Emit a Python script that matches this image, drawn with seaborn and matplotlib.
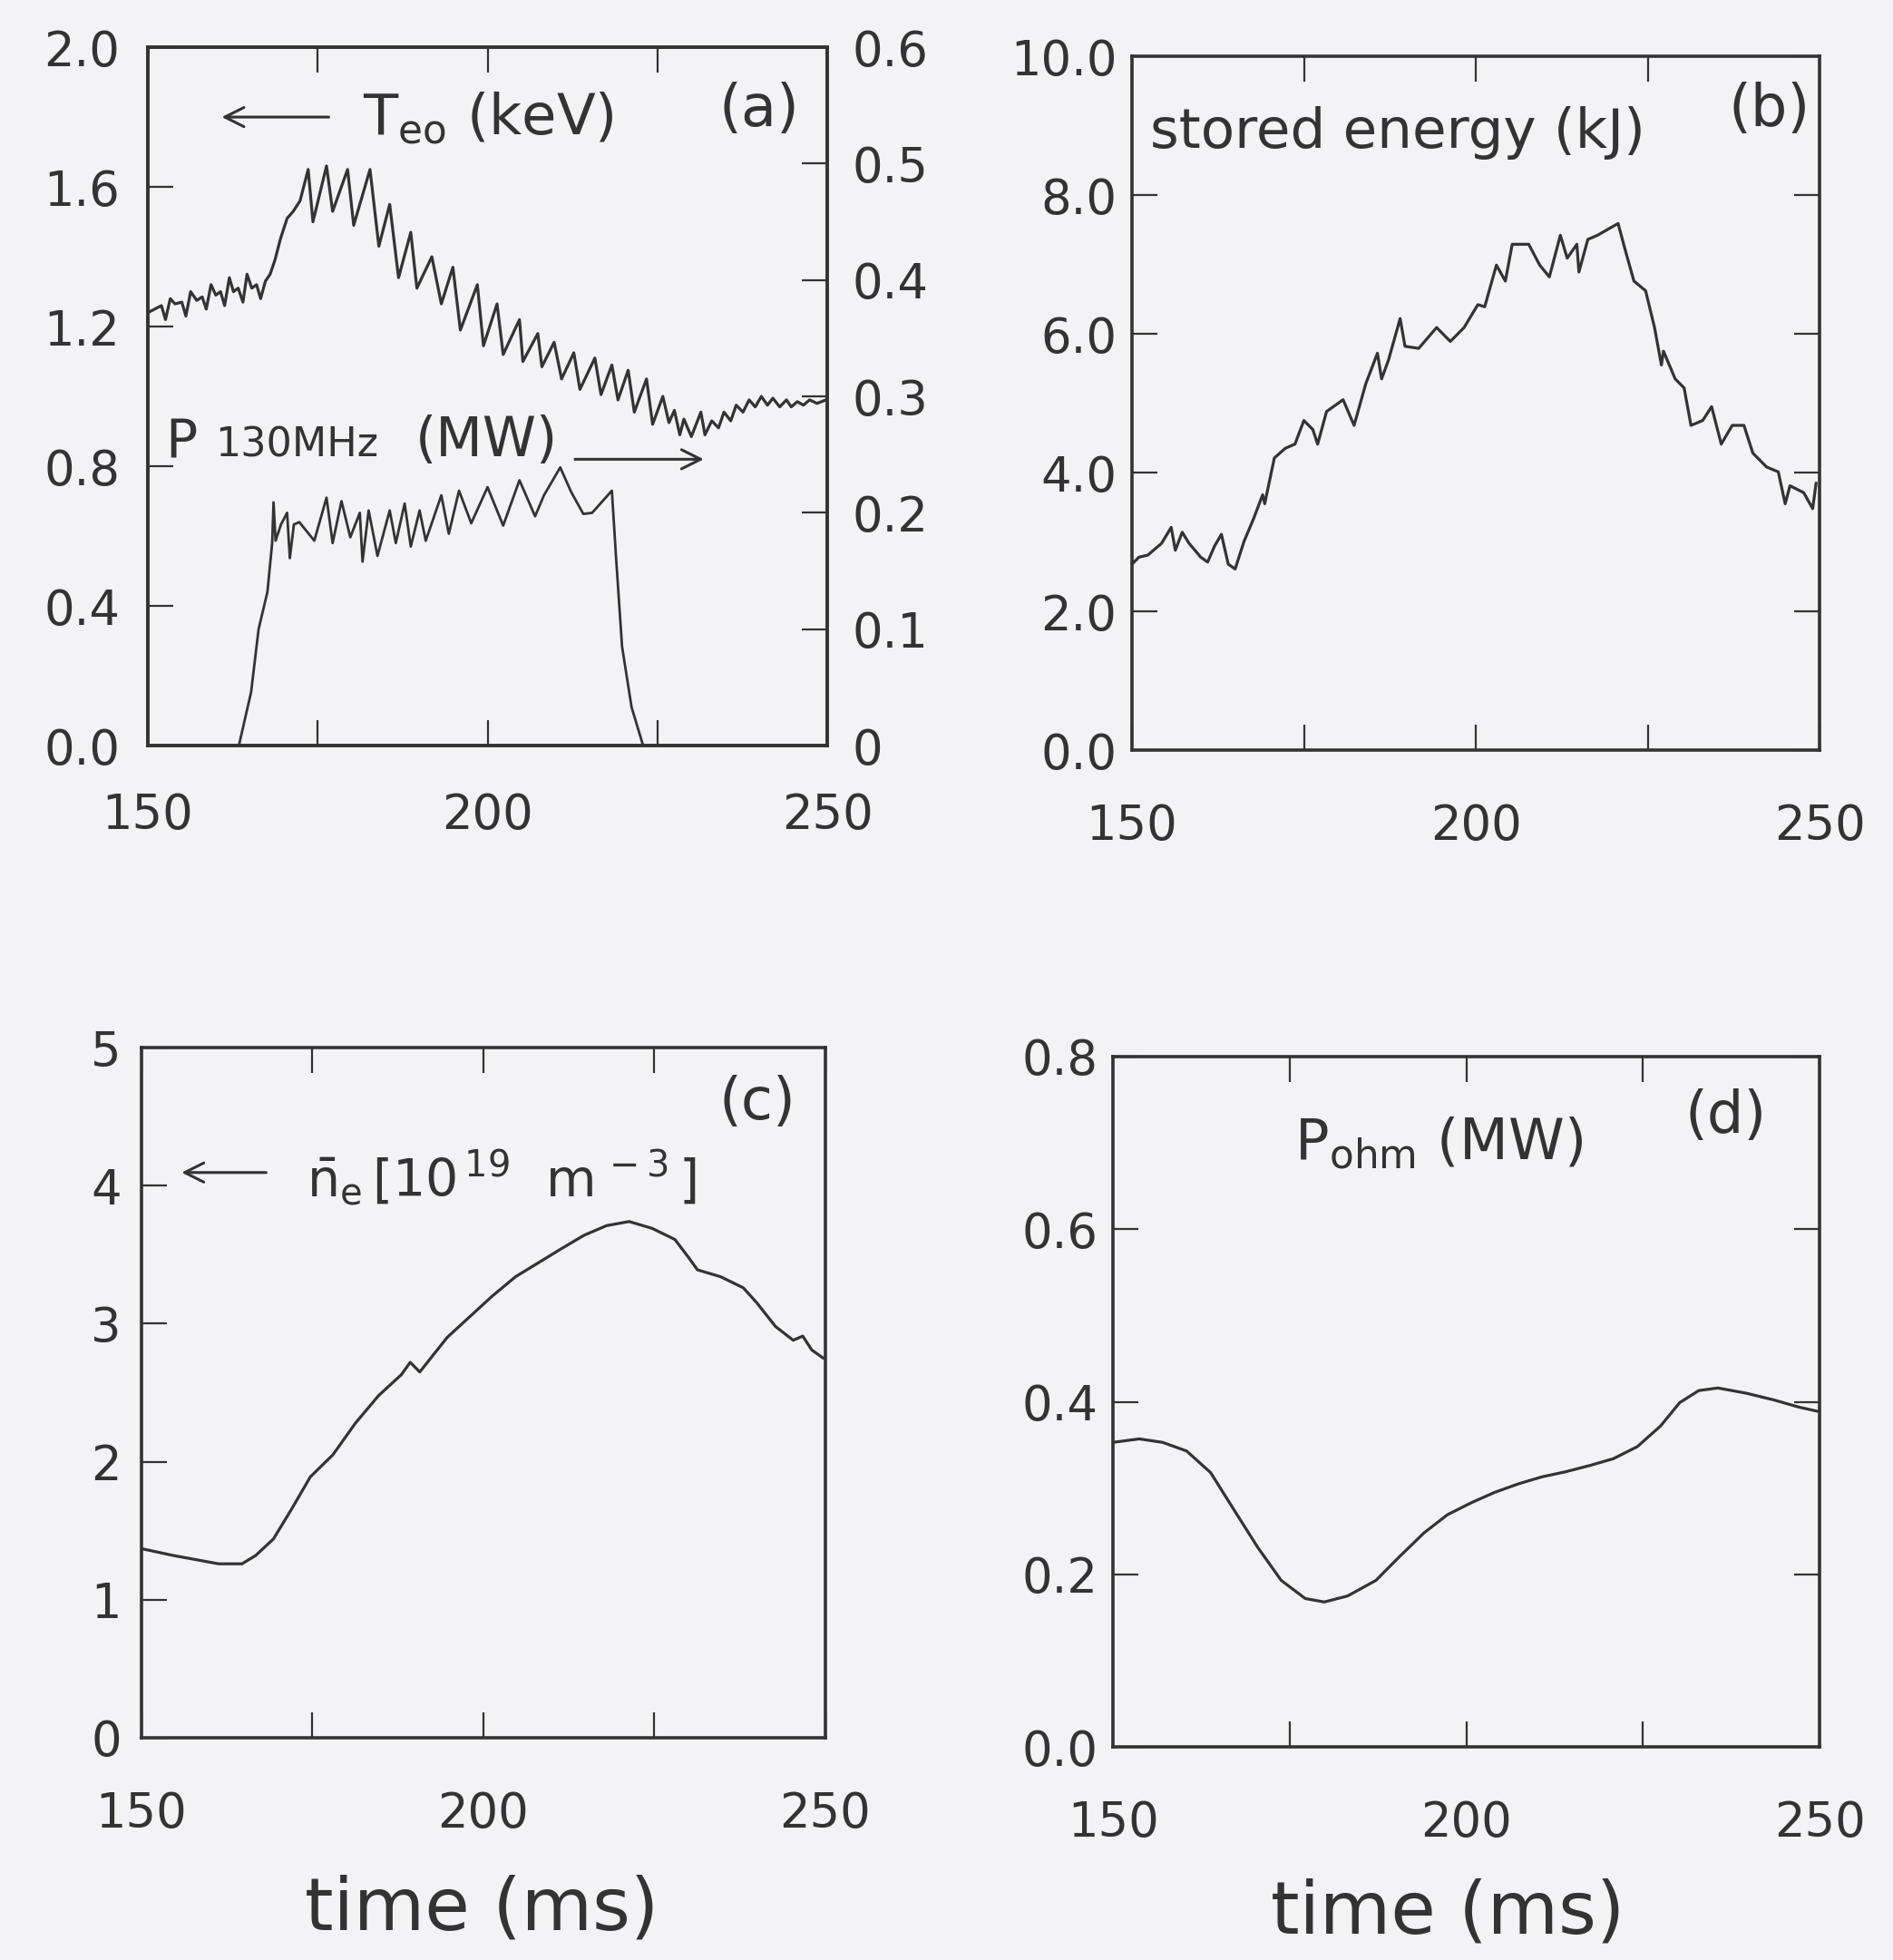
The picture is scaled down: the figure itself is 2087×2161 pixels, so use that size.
import numpy as np
import pandas as pd
import matplotlib
matplotlib.use("Agg")
import matplotlib.pyplot as plt
import seaborn as sns

# (a) central electron temperature (keV, left axis)
teo_t = [150, 151, 152, 152.6, 153.3, 154, 155, 155.6, 156.3, 157.2,
         158, 158.6, 159.3, 160, 160.7, 161.3, 162, 162.6, 163.3, 164,
         164.6, 165.3, 166, 166.6, 167.3, 168, 168.7, 169.5, 170.5, 171.4,
         172.4, 173.6, 174.3, 176.3, 177.2, 179.4, 180.3, 182.7, 184.0, 185.6,
         186.9, 188.7, 189.6, 191.8, 193.2, 194.9, 196.0, 198.5, 199.4, 201.4,
         202.3, 204.7, 205.2, 207.4, 208.0, 209.8, 210.9, 212.7, 213.6, 215.8,
         216.7, 218.3, 219.2, 220.7, 221.6, 223.4, 224.3, 225.8, 226.7, 227.5,
         228.3, 228.9, 230.0, 231.4, 232.0, 233.0, 234.0, 234.8, 235.8, 236.6,
         237.6, 238.5, 239.4, 240.3, 241.2, 242.0, 243.0, 244.0, 244.7, 245.6,
         246.5, 247.4, 248.5, 249.8]
teo_kev = [1.24, 1.25, 1.26, 1.22, 1.28, 1.265, 1.27, 1.23, 1.30, 1.275,
           1.285, 1.25, 1.32, 1.29, 1.30, 1.26, 1.34, 1.30, 1.31, 1.27,
           1.35, 1.31, 1.32, 1.28, 1.33, 1.35, 1.39, 1.45, 1.51, 1.53,
           1.56, 1.65, 1.50, 1.66, 1.53, 1.65, 1.49, 1.65, 1.43, 1.55,
           1.34, 1.47, 1.31, 1.40, 1.265, 1.37, 1.19, 1.32, 1.145, 1.265,
           1.12, 1.22, 1.10, 1.18, 1.085, 1.155, 1.05, 1.125, 1.02, 1.11,
           1.005, 1.09, 0.99, 1.075, 0.955, 1.05, 0.92, 1.00, 0.925, 0.96,
           0.89, 0.935, 0.885, 0.955, 0.89, 0.93, 0.91, 0.955, 0.93, 0.975,
           0.955, 0.99, 0.97, 1.00, 0.975, 0.995, 0.97, 0.99, 0.97, 0.985,
           0.975, 0.99, 0.98, 0.99]

# (a) 130 MHz power (MW, right axis)
p_t = [163.4, 165.2, 166.3, 167.6, 168.3, 168.5, 168.8, 169.6, 170.5, 170.9,
       171.5, 172.3, 174.5, 176.3, 177.2, 178.5, 179.8, 181.2, 181.6, 182.5,
       183.8, 185.6, 186.5, 187.8, 188.7, 190.0, 190.9, 193.2, 194.3, 195.8,
       197.6, 200.0, 202.3, 204.7, 207.0, 208.3, 210.7, 212.3, 214.1, 215.4,
       218.3, 218.9, 219.8, 221.2, 222.9]
p_mw = [0.0, 0.046, 0.10, 0.132, 0.174, 0.209, 0.176, 0.19, 0.20, 0.161,
        0.19, 0.192, 0.176, 0.213, 0.174, 0.210, 0.179, 0.200, 0.158, 0.202,
        0.163, 0.202, 0.174, 0.208, 0.171, 0.202, 0.176, 0.215, 0.182, 0.219,
        0.191, 0.222, 0.189, 0.228, 0.197, 0.215, 0.239, 0.218, 0.199, 0.200,
        0.219, 0.163, 0.085, 0.033, 0.0]

# (b) stored energy (kJ)
w_t = [150, 151, 152.3, 154.3, 155.7, 156.3, 157.3, 158.3, 160, 161,
       162, 163, 164, 165, 166.3, 167.7, 169, 169.3, 170.7, 172.3,
       173.7, 175, 176.3, 177, 178.3, 180.7, 182.3, 184, 185.7, 186.3,
       187.3, 189, 189.7, 191.7, 194.3, 196.3, 198.3, 200.3, 201.3, 203,
       204.3, 205.3, 207.7, 209.3, 210.7, 212.3, 213.3, 214.7, 215, 216.3,
       217.7, 220.7, 221.7, 223, 224.7, 226, 227, 227.3, 229, 230.3,
       231.3, 233, 234.3, 235.7, 237.3, 239, 240.3, 242.3, 244, 245,
       245.7, 247.7, 249, 249.5]
w_kj = [2.68, 2.78, 2.81, 2.98, 3.21, 2.88, 3.14, 2.98, 2.78, 2.71,
        2.94, 3.11, 2.68, 2.61, 3.01, 3.34, 3.68, 3.55, 4.21, 4.35,
        4.41, 4.75, 4.62, 4.41, 4.88, 5.05, 4.68, 5.28, 5.72, 5.35,
        5.62, 6.22, 5.82, 5.79, 6.09, 5.89, 6.09, 6.42, 6.39, 6.99,
        6.76, 7.29, 7.29, 6.99, 6.82, 7.42, 7.09, 7.29, 6.89, 7.36,
        7.42, 7.59, 7.22, 6.76, 6.62, 6.09, 5.55, 5.75, 5.35, 5.22,
        4.68, 4.75, 4.95, 4.41, 4.68, 4.68, 4.28, 4.08, 4.01, 3.55,
        3.81, 3.71, 3.48, 3.85]

# (c) line averaged density (1e19 m^-3)
n_t = [150, 154.7, 158, 161.3, 164.7, 166.7, 169.3, 172, 174.7, 178,
       181.3, 184.7, 188, 189.3, 190.7, 194.7, 198, 201.3, 204.7, 208,
       211.3, 214.7, 218, 221.3, 224.7, 228, 230, 231.3, 234.7, 238,
       240, 242.7, 245.3, 246.7, 248, 249.7]
n_e = [1.37, 1.32, 1.29, 1.26, 1.26, 1.32, 1.44, 1.66, 1.89, 2.05,
       2.28, 2.48, 2.63, 2.72, 2.65, 2.90, 3.05, 3.20, 3.34, 3.44,
       3.54, 3.64, 3.71, 3.74, 3.69, 3.61, 3.48, 3.39, 3.34, 3.26,
       3.15, 2.98, 2.88, 2.91, 2.81, 2.75]

# (d) ohmic power (MW)
o_t = [150, 153.7, 157, 160.4, 163.8, 167.1, 170.5, 173.8, 177.2, 179.9,
       183.2, 187.2, 190.6, 194, 197.3, 200.7, 204, 207.4, 210.7, 214.1,
       217.4, 220.8, 224.2, 227.5, 230.2, 232.9, 235.6, 239.6, 243.6, 247,
       249.7]
o_mw = [0.353, 0.357, 0.353, 0.343, 0.318, 0.275, 0.231, 0.193, 0.172, 0.168,
        0.175, 0.193, 0.221, 0.248, 0.269, 0.283, 0.295, 0.305, 0.313, 0.319,
        0.326, 0.334, 0.348, 0.372, 0.399, 0.413, 0.416, 0.410, 0.402, 0.394,
        0.389]

x_ticks = [150, 175, 200, 225, 250]
x_labels = ['150', '', '200', '', '250']

ink = '#333333'
paper = '#f3f2f4'
tick_fs = 38

sns.set_theme(style='ticks')
plt.rcParams['font.family'] = ['DejaVu Sans']
plt.rcParams['mathtext.fontset'] = 'dejavusans'

fig = plt.figure(figsize=(20.87, 21.61), dpi=100, facecolor=paper)


def style(ax, ylim, yticks, ylabels, ypad, xpad, right=True):
    ax.set_facecolor(paper)
    ax.set_xlim(150, 250)
    ax.set_ylim(*ylim)
    ax.set_xticks(x_ticks)
    ax.set_xticklabels(x_labels)
    ax.set_yticks(yticks)
    ax.set_yticklabels(ylabels)
    ax.tick_params(direction='in', top=True, right=right, length=20, width=1.6,
                   labelsize=tick_fs, colors=ink)
    ax.tick_params(axis='x', pad=xpad)
    ax.tick_params(axis='y', pad=ypad)
    for s in ax.spines.values():
        s.set_linewidth(2.6)
        s.set_color(ink)
    ax.set_xlabel('')
    ax.set_ylabel('')


def curve(ax, t, v, lw=2.3):
    df = pd.DataFrame({'t': t, 'v': v})
    sns.lineplot(data=df, x='t', y='v', ax=ax, color=ink, linewidth=lw,
                 estimator=None, sort=False)


def arrow(ax, x0, x1, y):
    ax.annotate('', xy=(x1, y), xytext=(x0, y), xycoords='axes fraction',
                arrowprops=dict(arrowstyle='->', lw=2.2, color=ink, mutation_scale=38))


# panel (a)
ax_a = fig.add_axes([0.0781, 0.6196, 0.3589, 0.3563])
curve(ax_a, teo_t, teo_kev)
style(ax_a, (0, 2.0), [0, 0.4, 0.8, 1.2, 1.6, 2.0],
      ['0.0', '0.4', '0.8', '1.2', '1.6', '2.0'], ypad=22, xpad=37, right=False)
ax_r = ax_a.twinx()
curve(ax_r, p_t, p_mw, lw=2.0)
ax_r.set_ylim(0, 0.6)
ax_r.set_yticks([0, 0.1, 0.2, 0.3, 0.4, 0.5, 0.6])
ax_r.set_yticklabels(['0', '0.1', '0.2', '0.3', '0.4', '0.5', '0.6'])
ax_r.tick_params(direction='in', right=True, left=False, length=20, width=1.6,
                 labelsize=tick_fs, colors=ink, pad=20)
ax_r.set_ylabel('')
for s in ax_r.spines.values():
    s.set_linewidth(2.6)
    s.set_color(ink)

arrow(ax_a, 0.27, 0.105, 0.90)
ax_a.text(0.316, 0.875, r'T$_{\mathrm{eo}}$ (keV)', transform=ax_a.transAxes,
          fontsize=45, color=ink, va='baseline')
ax_a.text(0.90, 0.91, '(a)', transform=ax_a.transAxes, fontsize=46, color=ink,
          ha='center', va='center')
# P 130MHz (MW) label, built from three pieces like the original lettering
ax_a.text(0.026, 0.414, 'P', transform=ax_a.transAxes, fontsize=42, color=ink,
          va='baseline')
ax_a.text(0.099, 0.414, '130MHz', transform=ax_a.transAxes, fontsize=32, color=ink,
          va='baseline')
ax_a.text(0.394, 0.414, '(MW)', transform=ax_a.transAxes, fontsize=43, color=ink,
          va='baseline')
arrow(ax_a, 0.625, 0.822, 0.41)

# panel (b)
ax_b = fig.add_axes([0.598, 0.6173, 0.3632, 0.354])
curve(ax_b, w_t, w_kj)
style(ax_b, (0, 10.0), [0, 2, 4, 6, 8, 10],
      ['0.0', '2.0', '4.0', '6.0', '8.0', '10.0'], ypad=12, xpad=42)
ax_b.text(0.027, 0.868, 'stored energy (kJ)', transform=ax_b.transAxes,
          fontsize=44, color=ink, va='baseline')
ax_b.text(0.927, 0.923, '(b)', transform=ax_b.transAxes, fontsize=46, color=ink,
          ha='center', va='center')

# panel (c)
ax_c = fig.add_axes([0.0747, 0.1134, 0.3613, 0.3521])
curve(ax_c, n_t, n_e)
style(ax_c, (0, 5), [0, 1, 2, 3, 4, 5], ['0', '1', '2', '3', '4', '5'],
      ypad=16, xpad=42, right=False)
ax_c.text(0.90, 0.92, '(c)', transform=ax_c.transAxes, fontsize=46, color=ink,
          ha='center', va='center')
arrow(ax_c, 0.186, 0.055, 0.819)
ax_c.text(0.241, 0.783, r'$\bar{\mathrm{n}}_{\mathrm{e}}\,[\mathrm{10}^{\,19}\ \ \mathrm{m}^{\,-3}\,]$',
          transform=ax_c.transAxes, fontsize=41, color=ink, va='baseline')

# panel (d)
ax_d = fig.add_axes([0.588, 0.1087, 0.3732, 0.3522])
curve(ax_d, o_t, o_mw)
style(ax_d, (0, 0.8), [0, 0.2, 0.4, 0.6, 0.8], ['0.0', '0.2', '0.4', '0.6', '0.8'],
      ypad=12, xpad=42)
ax_d.text(0.257, 0.851, r'P$_{\mathrm{ohm}}$ (MW)', transform=ax_d.transAxes,
          fontsize=45, color=ink, va='baseline')
ax_d.text(0.867, 0.913, '(d)', transform=ax_d.transAxes, fontsize=46, color=ink,
          ha='center', va='center')

fig.text(0.2544, 0.0255, 'time (ms)', fontsize=58, color=ink, ha='center', va='center')
fig.text(0.7648, 0.024, 'time (ms)', fontsize=58, color=ink, ha='center', va='center')

fig.savefig('out.png', dpi=100, facecolor=paper)
